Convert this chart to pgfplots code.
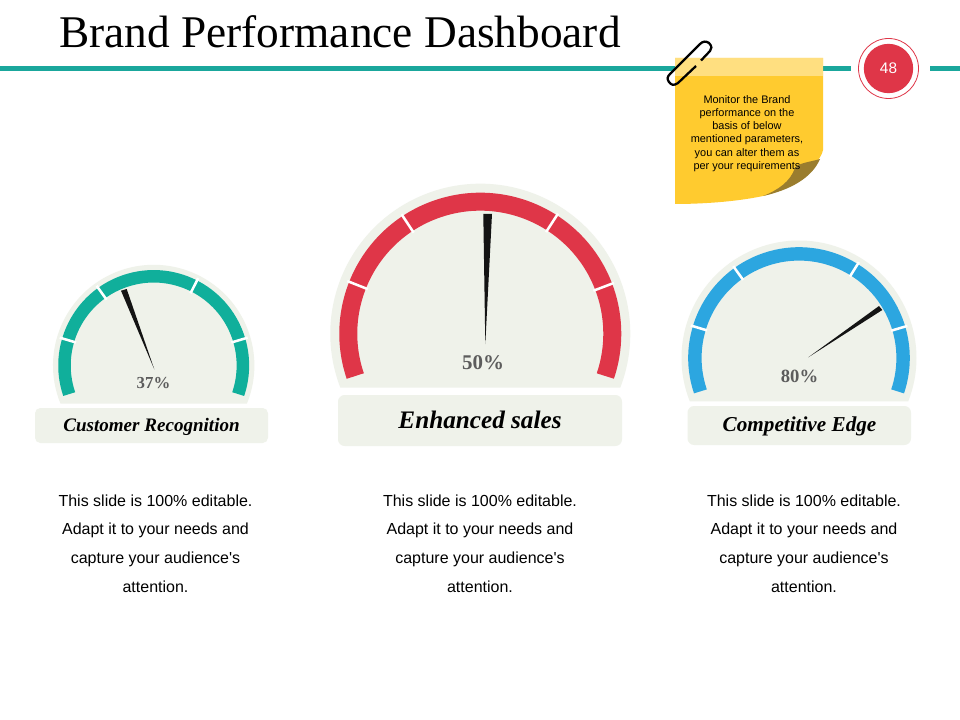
\documentclass[border=0pt]{standalone}
\usepackage{pgfplots}
\pgfplotsset{compat=1.18}
\usepackage{fontspec}
\setmainfont{Liberation Serif}
\newfontfamily\arial{Liberation Sans}
\definecolor{hdr}{HTML}{1AA79C}
\definecolor{tealg}{HTML}{10AF9B}
\definecolor{redg}{HTML}{DF3648}
\definecolor{blueg}{HTML}{2CA6E0}
\definecolor{halo}{HTML}{EFF2EA}
\definecolor{stick}{HTML}{FFCB2F}
\definecolor{stickl}{HTML}{FFDF80}
\definecolor{fold}{HTML}{9A7D2E}
\definecolor{needle}{HTML}{141414}
\definecolor{pct}{HTML}{5C5C5C}
\newcommand\gaugebase[7]{%
  \fill[halo] (axis cs:#1,#2) ++(180+#4:#3*0.75pt) arc[start angle=180+#4,end angle=-#4,radius=#3*0.75pt] -- cycle;
  \draw[#7,line width=#6*0.75pt] (axis cs:#1,#2) ++(198.7:#5*0.75pt) arc[start angle=198.7,end angle=-18.7,radius=#5*0.75pt];
}
\newcommand\gap[5]{% cx cy R1 R2 angle
  \draw[white,line width=1.9pt] (axis cs:#1,#2) ++(#5:#3*0.75pt) -- ++(#5:#4*0.75pt);
}
\begin{document}
\begin{tikzpicture}
\begin{axis}[
  width=720pt,height=540pt,scale only axis,
  xmin=0,xmax=960,ymin=0,ymax=720,y dir=reverse,
  hide axis,clip=false]
\fill[white] (axis cs:0,0) rectangle (axis cs:960,720);
% header
\fill[hdr] (axis cs:0,66) rectangle (axis cs:851,71);
\fill[hdr] (axis cs:930,66) rectangle (axis cs:960,71);
\node[anchor=center,inner sep=0pt,font=\fontsize{34pt}{36pt}\selectfont] at (axis cs:340,32) {Brand Performance Dashboard};
% page badge
\draw[redg,line width=0.6pt] (axis cs:888.5,68.5) circle[radius=22.5pt];
\fill[redg] (axis cs:888.5,68.5) circle[radius=18.5pt];
\node[text=white,inner sep=0pt,font=\arial\fontsize{11.5pt}{13pt}\selectfont] at (axis cs:888.5,68.5) {48};
% sticky note
\fill[stick] (axis cs:675,58) -- (axis cs:823,58) -- (axis cs:823,150) .. controls (axis cs:820,165) and (axis cs:790,190) .. (axis cs:763,196) .. controls (axis cs:735,202) and (axis cs:700,204) .. (axis cs:675,204) -- cycle;
\fill[stickl] (axis cs:675,58) rectangle (axis cs:823,76);
\fill[fold] (axis cs:820,159) .. controls (axis cs:810,162) and (axis cs:798,163) .. (axis cs:795,168) .. controls (axis cs:790,182) and (axis cs:778,190) .. (axis cs:763,196) .. controls (axis cs:790,190) and (axis cs:812,178) .. (axis cs:820,159) -- cycle;
\draw[black,line width=1.7pt] (axis cs:696,66) -- (axis cs:678,83) .. controls (axis cs:674,86) and (axis cs:671,85) .. (axis cs:669,82) .. controls (axis cs:667,79) and (axis cs:667,77) .. (axis cs:670,74) -- (axis cs:700,44) .. controls (axis cs:703,41) and (axis cs:706,41) .. (axis cs:709,43) .. controls (axis cs:712,46) and (axis cs:712,49) .. (axis cs:710,51) -- (axis cs:701,60.5);
\node[align=center,inner sep=0pt,text=black,font=\arial\fontsize{8.2pt}{9.85pt}\selectfont] at (axis cs:747,133.5) {Monitor the Brand\\performance on the\\basis of below\\mentioned parameters,\\you can alter them as\\per your requirements};
% gauges
\gaugebase{153.7}{365.5}{100.7}{22.2}{89.2}{12.5}{tealg}
\gap{153.7}{365.5}{81}{17}{163.5}
\gap{153.7}{365.5}{81}{17}{125.6}
\gap{153.7}{365.5}{81}{17}{63}
\gap{153.7}{365.5}{81}{17}{16.5}
\gaugebase{480.3}{333.7}{150}{21.1}{132}{18}{redg}
\gap{480.3}{333.7}{121}{22}{158.4}
\gap{480.3}{333.7}{121}{22}{123.4}
\gap{480.3}{333.7}{121}{22}{57.1}
\gap{480.3}{333.7}{121}{22}{20.8}
\gaugebase{799}{358}{117.5}{21.7}{104.1}{13.4}{blueg}
\gap{799}{358}{96}{17}{163.3}
\gap{799}{358}{96}{17}{125.6}
\gap{799}{358}{96}{17}{58}
\gap{799}{358}{96}{17}{16.5}
% needles
\addplot[fill=needle,draw=none] coordinates {(154.3,369.3) (121,290.7) (126.7,289)} -- cycle;
\addplot[fill=needle,draw=none] coordinates {(485.3,344) (483.3,214) (492,214)} -- cycle;
\addplot[fill=needle,draw=none] coordinates {(808.3,357.3) (879,306) (882.3,310)} -- cycle;
% percent
\node[text=pct,inner sep=0pt,font=\fontsize{12.6pt}{14pt}\bfseries\selectfont] at (axis cs:153.5,383.5) {37\%};
\node[text=pct,inner sep=0pt,font=\fontsize{15.7pt}{18pt}\bfseries\selectfont] at (axis cs:483,363) {50\%};
\node[text=pct,inner sep=0pt,font=\fontsize{14pt}{16pt}\bfseries\selectfont] at (axis cs:799.5,376.5) {80\%};
% label boxes
\fill[halo,rounded corners=4pt] (axis cs:35,408) rectangle (axis cs:268,443);
\fill[halo,rounded corners=5pt] (axis cs:338,395) rectangle (axis cs:622,446);
\fill[halo,rounded corners=5pt] (axis cs:687.5,406) rectangle (axis cs:911,445);
\node[inner sep=0pt,text=black,font=\fontsize{14.3pt}{16pt}\bfseries\itshape\selectfont] at (axis cs:151.5,427) {Customer Recognition};
\node[inner sep=0pt,text=black,font=\fontsize{18.9pt}{20pt}\bfseries\itshape\selectfont] at (axis cs:480,420) {Enhanced sales};
\node[inner sep=0pt,text=black,font=\fontsize{15.9pt}{17pt}\bfseries\itshape\selectfont] at (axis cs:799.5,426.5) {Competitive Edge};
% body text
\node[align=center,inner sep=0pt,text=black,font=\arial\fontsize{12pt}{21.5pt}\selectfont] at (axis cs:155.5,543.5) {This slide is 100\% editable.\\Adapt it to your needs and\\capture your audience's\\attention.};
\node[align=center,inner sep=0pt,text=black,font=\arial\fontsize{12pt}{21.5pt}\selectfont] at (axis cs:480,543.5) {This slide is 100\% editable.\\Adapt it to your needs and\\capture your audience's\\attention.};
\node[align=center,inner sep=0pt,text=black,font=\arial\fontsize{12pt}{21.5pt}\selectfont] at (axis cs:804,543.5) {This slide is 100\% editable.\\Adapt it to your needs and\\capture your audience's\\attention.};
\end{axis}
\end{tikzpicture}
\end{document}
